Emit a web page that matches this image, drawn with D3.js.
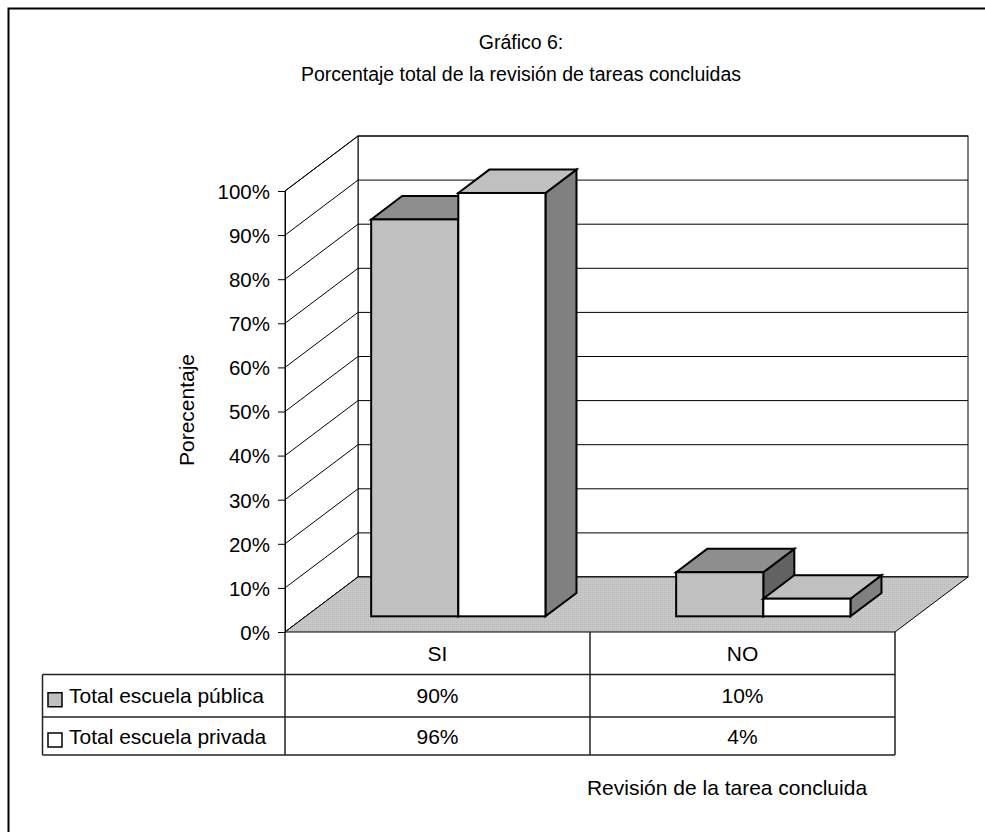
<!DOCTYPE html>
<html><head><meta charset="utf-8">
<script src="https://cdn.jsdelivr.net/npm/d3@7"></script>
<style>body{margin:0;background:#fff}svg{display:block}text{font-family:"Liberation Sans",Arial,sans-serif;fill:#000}</style>
</head><body>
<svg id="c" width="985" height="832"></svg>
<script>
const categories = ["SI", "NO"];
const seriesNames = ["Total escuela pública", "Total escuela privada"];
const publica = [0.90, 0.10];
const privada = [0.96, 0.04];
const tableLabels = [["90%", "10%"], ["96%", "4%"]];
const yTicks = [0,0.1,0.2,0.3,0.4,0.5,0.6,0.7,0.8,0.9,1.0];
const titleLines = ["Gráfico 6:", "Porcentaje total de la revisión de tareas concluidas"];
const yTitle = "Porecentaje";
const xTitle = "Revisión de la tarea concluida";

const seriesValues = [publica, privada];
const svg = d3.select("#c");

// frame
svg.append("rect").attr("x",8.5).attr("y",8.5).attr("width",1000).attr("height",1000)
  .attr("fill","#fff").attr("stroke","#000").attr("stroke-width",2);

// geometry
const X0 = 285, X1 = 895, Y0 = 632, Y1 = 191;
const DX = 73, DY = -55;
const F0 = 0.285, F1 = 0.71;
const x0 = d3.scaleBand().domain(categories).range([X0, X1]).padding(0);
const x1 = d3.scaleBand().domain([0,1]).range([0, x0.bandwidth()]).paddingInner(0).paddingOuter(0.75);
const y = d3.scaleLinear().domain([0,1]).range([Y0, Y1]);

// titles
svg.selectAll("text.title").data(titleLines).join("text").attr("class","title")
  .attr("x",521).attr("y",(d,i)=>49+i*32).attr("text-anchor","middle").attr("font-size",19.5).text(d=>d);

// back wall
const g = svg.append("g");
g.append("rect").attr("x",X0+DX).attr("y",y(1)+DY).attr("width",X1-X0).attr("height",y(0)-y(1))
  .attr("fill","#fff").attr("stroke","#000").attr("stroke-width",1);
g.selectAll("line.grid").data(yTicks).join("line").attr("class","grid")
  .attr("x1",X0+DX).attr("x2",X1+DX).attr("y1",d=>y(d)+DY).attr("y2",d=>y(d)+DY)
  .attr("stroke","#000").attr("stroke-width",1);
// left wall
g.append("path").attr("d",`M${X0},${y(0)}L${X0},${y(1)}L${X0+DX},${y(1)+DY}L${X0+DX},${y(0)+DY}Z`)
  .attr("fill","#fff").attr("stroke","#000").attr("stroke-width",1);
g.selectAll("line.lgrid").data(yTicks).join("line").attr("class","lgrid")
  .attr("x1",X0).attr("x2",X0+DX).attr("y1",d=>y(d)).attr("y2",d=>y(d)+DY)
  .attr("stroke","#000").attr("stroke-width",1);
// floor
const defs = svg.append("defs");
const pat = defs.append("pattern").attr("id","dots").attr("width",2).attr("height",2).attr("patternUnits","userSpaceOnUse");
pat.append("rect").attr("width",2).attr("height",2).attr("fill","#c8c8c8");
pat.append("rect").attr("width",1).attr("height",1).attr("fill","#b8b8b8");
g.append("path").attr("d",`M${X0},${y(0)}L${X1},${y(0)}L${X1+DX},${y(0)+DY}L${X0+DX},${y(0)+DY}Z`)
  .attr("fill","url(#dots)").attr("stroke","#000").attr("stroke-width",1);

// y axis
const ax = svg.append("g").attr("transform",`translate(${X0},0)`)
  .call(d3.axisLeft(y).tickValues(yTicks).tickFormat(d3.format(".0%")).tickSize(7).tickPadding(8));
ax.select(".domain").attr("stroke","#000");
ax.selectAll("text").attr("font-size",20.5).attr("font-family","Liberation Sans, Arial, sans-serif").attr("dy","0.36em");
ax.selectAll("line").attr("stroke","#000");

// y title
svg.append("text").attr("transform","translate(193.5,410) rotate(-90)").attr("text-anchor","middle")
  .attr("font-size",21).text(yTitle);

// bars
const styles = [
  {front:"#c0c0c0", top:"#8e8e8e", side:"#626262"},
  {front:"#ffffff", top:"#c0c0c0", side:"#808080"}
];
const bars = [];
categories.forEach((c,ci)=>{
  seriesValues.forEach((vals,si)=>{ bars.push({c, si, v: vals[ci]}); });
});
const bg = svg.append("g");
bars.forEach(b=>{
  const fx = x0(b.c) + x1(b.si) + DX*F0;
  const fw = x1.bandwidth();
  const ft = y(b.v) + DY*F0, fb = y(0) + DY*F0;
  const ddx = DX*(F1-F0), ddy = DY*(F1-F0);
  const st = styles[b.si];
  const bb = bg.append("g").attr("stroke","#000").attr("stroke-width",2).attr("stroke-linejoin","miter");
  bb.append("path").attr("d",`M${fx+fw},${ft}L${fx+fw+ddx},${ft+ddy}L${fx+fw+ddx},${fb+ddy}L${fx+fw},${fb}Z`).attr("fill",st.side);
  bb.append("path").attr("d",`M${fx},${ft}L${fx+ddx},${ft+ddy}L${fx+fw+ddx},${ft+ddy}L${fx+fw},${ft}Z`).attr("fill",st.top);
  bb.append("rect").attr("x",fx).attr("y",ft).attr("width",fw).attr("height",fb-ft).attr("fill",st.front);
});

// data table
const rowY = [632, 674.5, 717, 755];
const tg = svg.append("g").attr("stroke","#222").attr("stroke-width",1.5);
const TL = 42.5;
tg.append("line").attr("x1",X0).attr("x2",X0).attr("y1",Y0).attr("y2",rowY[3]);
tg.append("line").attr("x1",x0("NO")).attr("x2",x0("NO")).attr("y1",Y0).attr("y2",rowY[3]);
tg.append("line").attr("x1",X1).attr("x2",X1).attr("y1",Y0).attr("y2",rowY[3]);
tg.append("line").attr("x1",TL).attr("x2",TL).attr("y1",rowY[1]).attr("y2",rowY[3]);
[1,2,3].forEach(i=>tg.append("line").attr("x1",TL).attr("x2",X1).attr("y1",rowY[i]).attr("y2",rowY[i]));

svg.selectAll("text.cat").data(categories).join("text").attr("class","cat")
  .attr("x",d=>x0(d)+x0.bandwidth()/2).attr("y",(rowY[0]+rowY[1])/2+7.5).attr("text-anchor","middle")
  .attr("font-size",21).text(d=>d);
seriesNames.forEach((s,si)=>{
  const cy = (rowY[si+1]+rowY[si+2])/2;
  svg.append("rect").attr("x",48).attr("y",cy-3).attr("width",14).attr("height",14)
    .attr("fill",styles[si].front).attr("stroke","#000").attr("stroke-width",1.5);
  svg.append("text").attr("x",69).attr("y",cy+7.5).attr("font-size",21).text(s);
  categories.forEach((c,ci)=>{
    svg.append("text").attr("x",x0(c)+x0.bandwidth()/2).attr("y",cy+7.5).attr("text-anchor","middle")
      .attr("font-size",21).text(tableLabels[si][ci]);
  });
});

// x title
svg.append("text").attr("x",727).attr("y",795).attr("text-anchor","middle").attr("font-size",21).text(xTitle);
</script>
</body></html>
